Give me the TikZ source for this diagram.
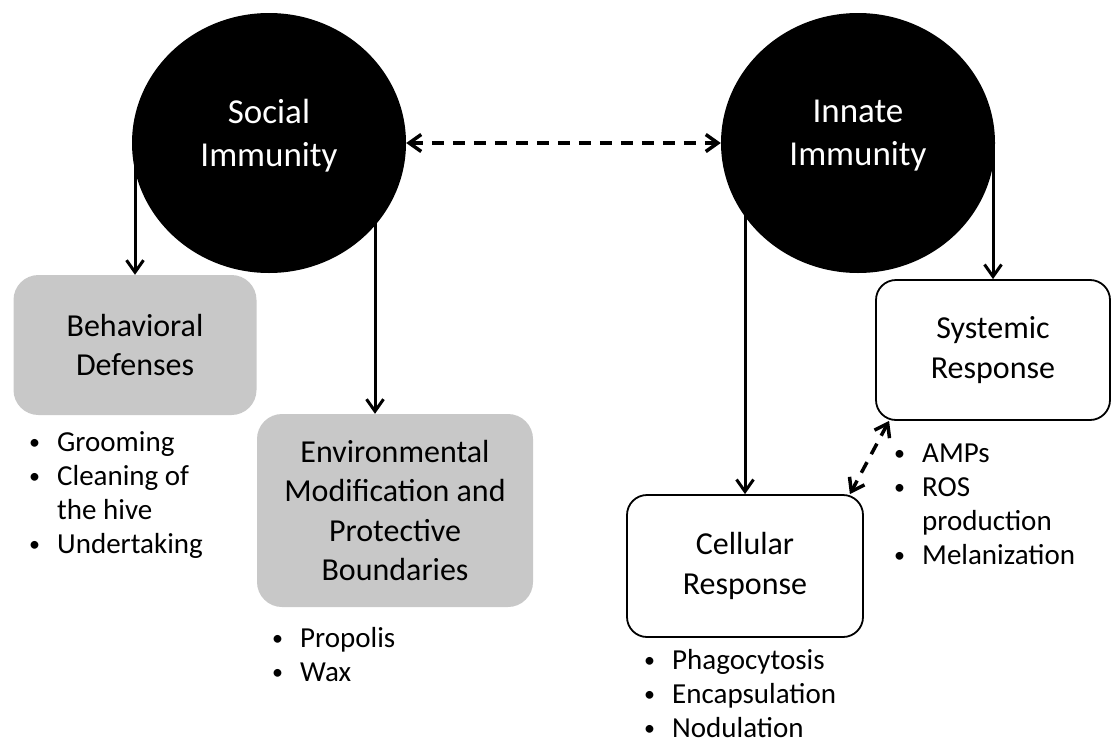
\documentclass[tikz,border=0pt]{standalone}
\usepackage{fontspec}
\setmainfont{Carlito}
\usepackage{xcolor}
\usetikzlibrary{arrows.meta, shapes.geometric}

\definecolor{boxgray}{RGB}{200,200,200}
\newcommand{\bul}{\strut\makebox[28pt][l]{\raisebox{2pt}{\fontsize{22}{22}\selectfont\textbullet}}}
\newcommand{\cont}{\strut\hspace*{28pt}}

\begin{document}
\begin{tikzpicture}[x=1pt, y=-1pt,
    immune/.style={ellipse, fill=black, text=white, inner sep=0pt,
        minimum width=274pt, minimum height=260pt, align=center,
        font=\fontsize{35}{43}\selectfont, text depth=20pt},
    graybox/.style={rectangle, rounded corners=25pt, fill=boxgray,
        align=center, font=\fontsize{32}{39.5}\selectfont},
    whitebox/.style={rectangle, rounded corners=20pt, draw=black,
        line width=1.8pt, fill=white, align=center,
        font=\fontsize{32}{39.5}\selectfont},
    items/.style={anchor=north west, inner sep=0pt, align=left,
        font=\fontsize{29}{34}\selectfont},
    arr/.style={line width=3pt, -{Straight Barb[length=12pt, width=17pt]}},
    darr/.style={line width=3.5pt, dash pattern=on 12pt off 9pt,
        {Straight Barb[length=12pt, width=17pt]}-{Straight Barb[length=12pt, width=17pt]}}]
    \useasboundingbox (0,0) rectangle (1111,744);

    % the two kinds of immunity
    \node[immune] (social) at (269,143) {Social\\Immunity};
    \node[immune] (innate) at (858,143) {Innate\\Immunity};

    % social side
    \node[graybox, minimum width=243pt, minimum height=140pt] (behav) at (135,345)
        {Behavioral\\Defenses};
    \node[graybox, minimum width=276pt, minimum height=193pt] (env) at (395,510.5)
        {Environmental\\Modification and\\Protective\\Boundaries};

    % innate side
    \node[whitebox, minimum width=234pt, minimum height=140pt] (sys) at (993,350)
        {Systemic\\Response};
    \node[whitebox, minimum width=236pt, minimum height=142pt] (cell) at (745,566)
        {Cellular\\Response};

    % lists under the boxes
    \node[items] (behavlist) at (29,427.2)
        {\bul Grooming\\\bul Cleaning of\\\cont the hive\\\bul Undertaking};
    \node[items] (envlist) at (272,623.2)
        {\bul Propolis\\\bul Wax};
    \node[items] (syslist) at (894,438.2)
        {\bul AMPs\\\bul ROS\\\cont production\\\bul Melanization};
    \node[items] (celllist) at (644,645.5)
        {\bul Phagocytosis\\\bul Encapsulation\\\bul Nodulation};

    % connectors
    \coordinate (envin) at ([xshift=-20pt]env.north);
    \draw[arr] (social.center -| behav.north) -- (behav.north);
    \draw[arr] (social.center -| envin) -- (envin);
    \draw[arr] (innate.center -| cell.north) -- (cell.north);
    \draw[arr] (innate.center -| sys.north) -- (sys.north);
    \draw[darr] (social.east) -- (innate.west);
    \draw[darr] ([xshift=14pt]sys.south west) -- ([xshift=-14pt]cell.north east);
\end{tikzpicture}
\end{document}
